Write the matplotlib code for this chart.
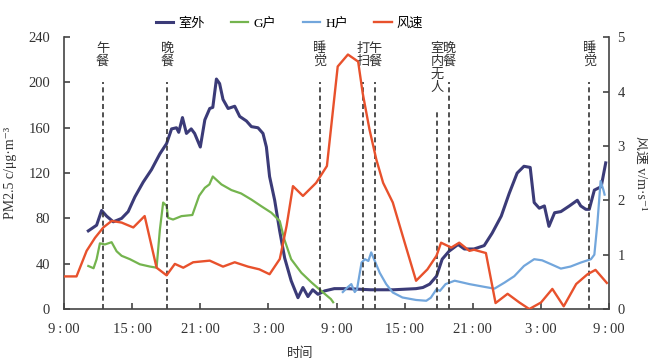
# -*- coding: utf-8 -*-
"""
室内外PM2.5浓度与风速逐时变化（两天）
- 左轴: PM2.5 浓度, 右轴: 风速
- 竖虚线标注生活事件
"""
import matplotlib
matplotlib.use("Agg")
import matplotlib.pyplot as plt

plt.rcParams['font.family'] = ['Liberation Serif', 'Noto Sans CJK SC', 'DejaVu Serif']
plt.rcParams['axes.unicode_minus'] = False

# ---- 数据（横坐标: 自第一天9:00起的小时数） ----
out_t = [2.14, 2.87, 3.31, 3.75, 4.34, 5.07, 5.65, 6.24, 6.97, 7.7, 8.44, 9.03, 9.47, 9.9,
         10.1, 10.43, 10.78, 11.2, 11.5, 12.0, 12.4, 12.83, 13.1, 13.42, 13.7, 14.0, 14.45,
         15.03, 15.47, 16.06, 16.5, 17.08, 17.52, 17.82, 18.1, 18.55, 18.99, 19.43, 20.0,
         20.6, 21.04, 21.48, 21.9, 22.36, 22.95, 23.8, 25.0, 27.0, 29.0, 31.0, 31.6, 32.2,
         32.8, 33.3, 33.9, 34.7, 35.25, 36.1, 37.0, 37.7, 38.5, 39.2, 39.9, 40.5, 41.05,
         41.4, 41.85, 42.3, 42.7, 43.2, 43.75, 44.5, 45.2, 45.5, 45.95, 46.25, 46.7, 47.3, 47.7]
out_pm = [69, 74, 87, 82, 77, 80, 86, 99, 112, 123, 137, 146, 159, 160,
          156, 169, 155, 159, 155, 143, 167, 177, 178, 203, 199, 185, 177,
          179, 170, 166, 161, 160, 155, 143, 117, 96, 69, 45, 25,
          10, 19, 11, 17, 13, 16, 18, 18, 17, 17, 18, 19, 22,
          29, 44, 51, 57, 53, 53, 56, 67, 82, 102, 120, 126, 125,
          94, 89, 91, 73, 85, 86, 91, 96, 91, 88, 88, 105, 108, 129]

g_t = [2.14, 2.6, 2.87, 3.16, 3.6, 4.19, 4.63, 5.07, 5.8, 6.68, 7.56, 8.15, 8.44, 8.73,
       9.03, 9.17, 9.6, 10.34, 11.3, 11.9, 12.4, 12.8, 13.1, 13.86, 14.74, 15.6, 16.5,
       17.38, 18.26, 19.0, 19.4, 20.0, 20.9, 21.8, 22.65, 23.5, 23.7]
g_pm = [38, 36, 44, 58, 57, 59, 51, 47, 44, 39.5, 37.5, 36.5, 70, 94,
        91, 80.5, 79, 82, 83, 100, 107, 110, 117, 110, 105, 102, 96.6,
        90.7, 85, 77.6, 61.5, 44, 32, 23.4, 16, 8.8, 6]

h_t = [24.55, 24.95, 25.3, 25.6, 25.8, 26.2, 26.5, 26.8, 27.05, 27.3, 27.8, 28.37, 28.95,
       29.8, 31.0, 31.9, 32.3, 32.8, 33.1, 33.6, 34.4, 35.1, 35.7, 37.0, 37.9, 38.8, 39.65,
       40.5, 41.4, 42.1, 42.9, 43.75, 44.6, 45.5, 46.4, 46.7, 46.97, 47.25, 47.5, 47.6]
h_pm = [15, 19, 22, 15, 17.5, 41, 44, 42.4, 50, 44, 32, 22, 14.6,
        10.2, 8, 7.3, 10, 17.5, 16, 22, 25, 23.4, 22, 19.6, 18, 23.4, 29,
        38, 44, 43, 39.5, 35.7, 37.5, 41, 44, 48, 76, 113, 105, 101]

wind_t = [0, 1.1, 1.99, 2.73, 3.46, 4.19, 5.07, 6.1, 7.1, 8.15, 9.03, 9.76, 10.5, 11.37,
          12.83, 14.0, 15.03, 16.2, 17.2, 18.1, 19.0, 19.6, 20.16, 21.04, 22.2, 23.15, 24.1,
          25.0, 25.9, 26.3, 26.9, 27.5, 28.1, 28.95, 30.0, 31.0, 32.0, 32.8, 33.2, 34.1,
          34.8, 35.7, 36.1, 37.15, 38.0, 39.06, 40.1, 40.97, 42.0, 43.0, 44.0, 45.1, 46.1,
          46.8, 47.8]
wind_v = [0.6, 0.6, 1.07, 1.31, 1.5, 1.62, 1.59, 1.5, 1.71, 0.76, 0.62, 0.83, 0.76, 0.86,
          0.89, 0.78, 0.86, 0.78, 0.73, 0.64, 0.92, 1.53, 2.26, 2.08, 2.32, 2.63, 4.46,
          4.68, 4.55, 3.97, 3.3, 2.75, 2.32, 1.96, 1.22, 0.52, 0.73, 0.98, 1.22, 1.13,
          1.22, 1.07, 1.09, 1.03, 0.11, 0.28, 0.12, 0.0, 0.12, 0.37, 0.05, 0.46, 0.64,
          0.72, 0.48]

event_t = [3.4, 9.08, 22.5, 26.37, 27.4, 32.85, 33.93, 46.27]
event_label = ["午餐", "晚餐", "睡觉", "打扫", "午餐", "室内无人", "晚餐", "睡觉"]

x_ticks = [0, 6, 12, 18, 24, 30, 36, 42, 48]
x_ticklabels = ["9\u2009:\u200900", "15\u2009:\u200900", "21\u2009:\u200900", "3\u2009:\u200900",
                "9\u2009:\u200900", "15\u2009:\u200900", "21\u2009:\u200900", "3\u2009:\u200900",
                "9\u2009:\u200900"]

C_OUT, C_G, C_H, C_W = "#3b3b78", "#74b44e", "#72a6dc", "#e8512c"
AX_C = "#444444"

fig = plt.figure(figsize=(6.48, 3.64), dpi=100)
ax = fig.add_axes([0.0988, 0.151, 0.8412, 0.747])
ax2 = ax.twinx()

l1, = ax.plot(out_t, out_pm, color=C_OUT, lw=2.2, label="室外")
l2, = ax.plot(g_t, g_pm, color=C_G, lw=1.6, label="G户")
l3, = ax.plot(h_t, h_pm, color=C_H, lw=1.6, label="H户")
l4, = ax2.plot(wind_t, wind_v, color=C_W, lw=1.7, label="风速")

# 事件竖线 + 竖排文字
for t, lab in zip(event_t, event_label):
    top = 0.73 if len(lab) > 2 else 0.835
    ax.axvline(t, ymin=0, ymax=top, color="#333333", lw=1.2, ls=(0, (3, 2)))
    ax.text(t, 236, "\n".join(lab), ha="center", va="top", fontsize=9.5,
            linespacing=1.0, color="#333333", family=['Noto Sans CJK SC'])

ax.set_xlim(0, 48)
ax.set_ylim(0, 240)
ax2.set_ylim(0, 5)
ax.set_xticks(x_ticks)
ax.set_xticklabels(x_ticklabels)
ax.set_yticks(range(0, 241, 40))
ax2.set_yticks(range(0, 6))

for a in (ax, ax2):
    a.spines["top"].set_visible(False)
    for s in a.spines.values():
        s.set_color(AX_C)
        s.set_linewidth(1.2)
    a.tick_params(direction="in", length=4, width=1.2, color=AX_C,
                  labelsize=10.5, labelcolor="#333333")
ax.tick_params(axis="x", pad=10)
ax.tick_params(axis="y", pad=10)
ax2.tick_params(axis="y", pad=6)
ax.spines["right"].set_visible(False)
ax2.spines["left"].set_visible(False)
ax2.spines["bottom"].set_visible(False)

ax.set_ylabel("PM2.5 c/μg·m⁻³", fontsize=10, color="#333333", labelpad=8)
ax2.set_ylabel("风速 v/m·s⁻¹", fontsize=10, color="#333333", rotation=270, labelpad=16)
fig.text(0.463, 0.028, "时间", ha="center", va="center", fontsize=9.5, color="#333333")

fig.legend(handles=[l1, l2, l3, l4], loc="center", bbox_to_anchor=(0.447, 0.935),
           ncol=4, frameon=False, fontsize=9.5, handlelength=1.3, handletextpad=0.4,
           columnspacing=2.0)

fig.savefig("out.png", dpi=100)
